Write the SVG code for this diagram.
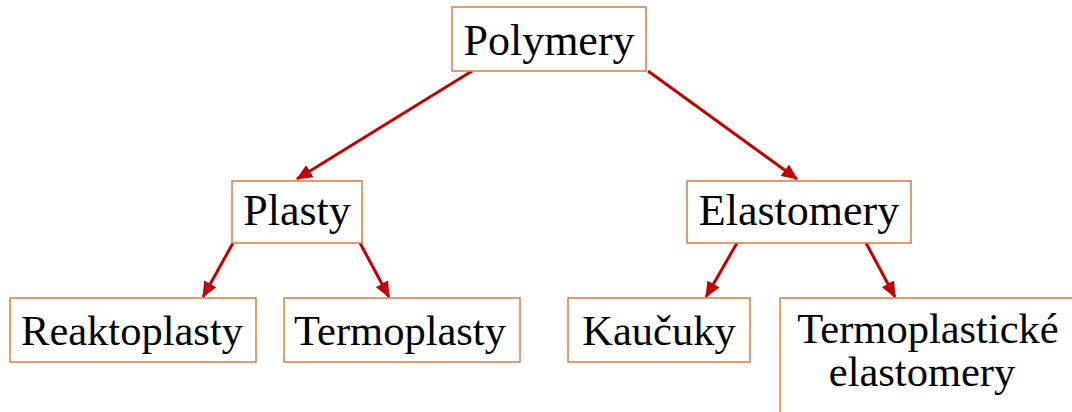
<svg xmlns="http://www.w3.org/2000/svg" width="1072" height="412" viewBox="0 0 1072 412">
<style>
.box{fill:#fff;stroke:#e07b3e;stroke-width:1.5}
.t{font-family:"Liberation Serif","Times New Roman",serif;fill:#000;text-anchor:middle}
.big{font-size:44px}
.sm{font-size:42.5px}
.c{stroke:#c00000;stroke-width:3;fill:none;marker-end:url(#ah)}
</style>
<defs>
<marker id="ah" markerUnits="userSpaceOnUse" markerWidth="16" markerHeight="14" refX="15" refY="7" orient="auto">
<path d="M0,0 L16,7 L0,14 Z" fill="#c00000"/>
</marker>
</defs>
<g id="connectors">
<line class="c" x1="472" y1="71" x2="297" y2="179"/>
<line class="c" x1="648" y1="71" x2="797" y2="179"/>
<line class="c" x1="233" y1="243" x2="203" y2="297"/>
<line class="c" x1="360" y1="243" x2="389" y2="297"/>
<line class="c" x1="737" y1="243" x2="706" y2="297"/>
<line class="c" x1="866" y1="243" x2="895" y2="297"/>
</g>
<g id="polymery">
<rect class="box" x="452" y="7" width="194" height="64"/>
<text class="t big" x="549" y="55">Polymery</text>
</g>
<g id="plasty">
<rect class="box" x="232" y="181" width="130" height="62"/>
<text class="t big" x="297" y="225">Plasty</text>
</g>
<g id="elastomery">
<rect class="box" x="687" y="181" width="224" height="62"/>
<text class="t big" x="799" y="225">Elastomery</text>
</g>
<g id="reaktoplasty">
<rect class="box" x="10" y="298" width="246" height="64"/>
<text class="t sm" x="132" y="345">Reaktoplasty</text>
</g>
<g id="termoplasty">
<rect class="box" x="284" y="298" width="236" height="64"/>
<text class="t sm" x="400" y="345">Termoplasty</text>
</g>
<g id="kaucuky">
<rect class="box" x="568" y="298" width="182" height="64"/>
<text class="t sm" x="659" y="345">Kaučuky</text>
</g>
<g id="termoplasticke-elastomery">
<rect class="box" x="780" y="298" width="310" height="140"/>
<text class="t sm" x="928" y="343">Termoplastické</text>
<text class="t sm" x="922" y="386">elastomery</text>
</g>
</svg>
